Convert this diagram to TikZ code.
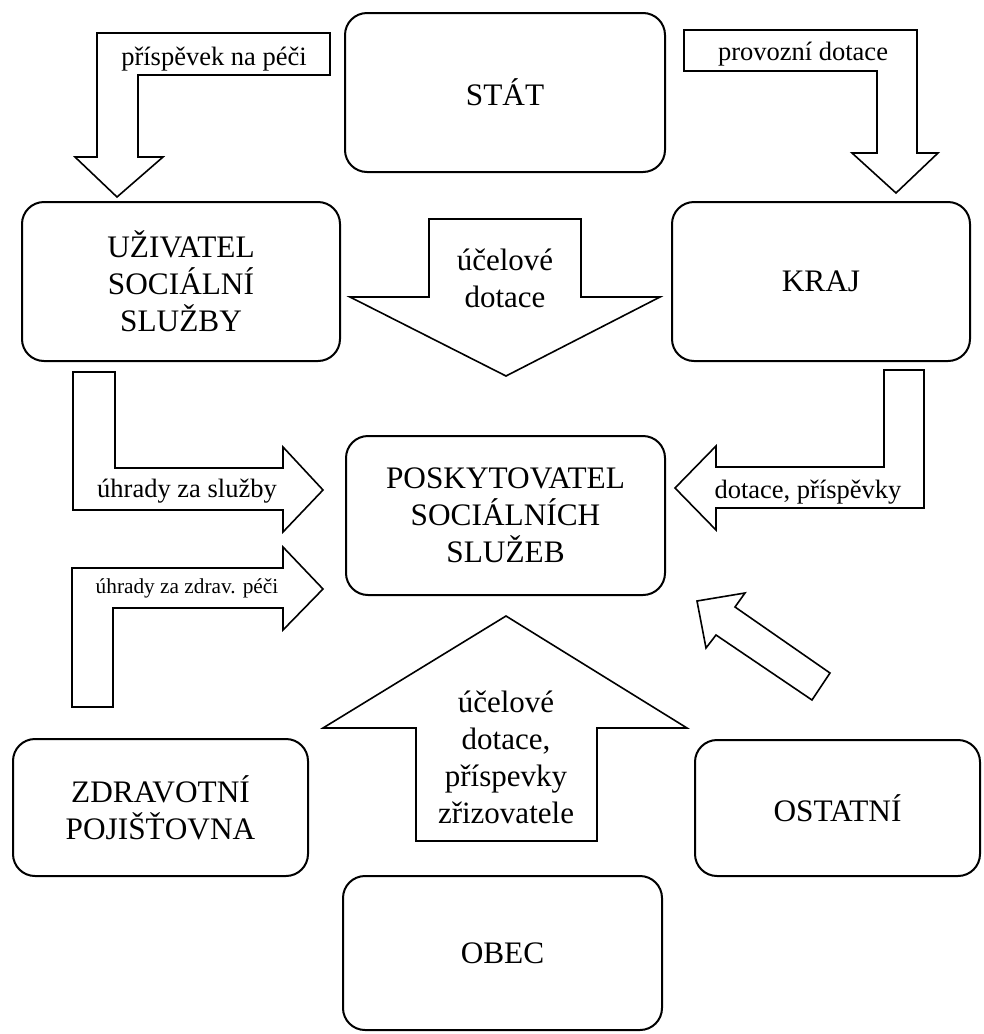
\documentclass[tikz,border=0pt]{standalone}
\usepackage{fontspec}
\setmainfont{Liberation Serif}
\begin{document}
\begin{tikzpicture}[x=1pt,y=-1pt,
  box/.style={draw, line width=2pt, rounded corners=22pt, align=center,
    font=\fontsize{31.3}{37}\selectfont, inner sep=0pt},
  blockarrow/.style={draw, line width=1.6pt, fill=white, line join=miter},
  lab/.style={font=\fontsize{26.5}{32}\selectfont, inner sep=0pt, anchor=base},
  biglab/.style={font=\fontsize{31}{37}\selectfont, inner sep=0pt, align=center},
  smalllab/.style={font=\fontsize{21.3}{25}\selectfont, inner sep=0pt, anchor=base}]
\useasboundingbox (0,0) rectangle (984,1034);

% boxes
\node[box, minimum width=320pt, minimum height=159pt] (stat) at (505,92.5) {STÁT};
\node[box, minimum width=318pt, minimum height=159pt] (uziv) at (181,281.5) {UŽIVATEL\\SOCIÁLNÍ\\SLUŽBY};
\node[box, minimum width=298pt, minimum height=159pt] (kraj) at (821,281.5) {KRAJ};
\node[box, minimum width=319pt, minimum height=159pt] (posk) at (505.5,515.5) {POSKYTOVATEL\\SOCIÁLNÍCH\\SLUŽEB};
\node[box, minimum width=295pt, minimum height=137pt] (zdrav) at (160.5,807.5) {ZDRAVOTNÍ\\POJIŠŤOVNA};
\node[box, minimum width=285pt, minimum height=136pt] (ost) at (837.5,808) {OSTATNÍ};
\node[box, minimum width=319pt, minimum height=154pt] (obec) at (502.5,953) {OBEC};

% block arrows
\draw[blockarrow] (97,33) -- (330,33) -- (330,75) -- (138,75) -- (138,157) -- (163,157)
  -- (117,197) -- (75,157) -- (97,157) -- cycle;
\node[lab] (l1) at (214,65) {příspěvek na péči};

\draw[blockarrow] (684,30) -- (917,30) -- (917,153) -- (938,153) -- (896,193) -- (852,153)
  -- (877,153) -- (877,71) -- (684,71) -- cycle;
\node[lab] (l2) at (803,60) {provozní dotace};

\draw[blockarrow] (429,219) -- (581,219) -- (581,297) -- (660,297) -- (506,376) -- (350,297)
  -- (429,297) -- cycle;
\node[biglab] (l3) at (505,278) {účelové\\dotace};

\draw[blockarrow] (73,372) -- (115,372) -- (115,468) -- (283,468) -- (283,447) -- (323,490)
  -- (283,532) -- (283,510) -- (73,510) -- cycle;
\node[lab] (l4) at (187,497) {úhrady za služby};

\draw[blockarrow] (72,568) -- (283,568) -- (283,547) -- (323,589) -- (283,630) -- (283,608)
  -- (113,608) -- (113,707) -- (72,707) -- cycle;
\node[smalllab] (l5) at (187,593) {úhrady za zdrav. péči};

\draw[blockarrow] (884,370) -- (924,370) -- (924,508) -- (716,508) -- (716,530) -- (675,488)
  -- (716,446) -- (716,467) -- (884,467) -- cycle;
\node[lab] (l6) at (808,498) {dotace, příspěvky};

\draw[blockarrow] (697,601) -- (745,593) -- (735,607) -- (830,673) -- (812,700) -- (716,635)
  -- (706,648) -- cycle;

\draw[blockarrow] (416,841) -- (416,728) -- (323,728) -- (506,616) -- (687,728) -- (597,728)
  -- (597,841) -- cycle;
\node[biglab] (l7) at (506,757) {účelové\\dotace,\\příspevky\\zřizovatele};
\end{tikzpicture}
\end{document}
